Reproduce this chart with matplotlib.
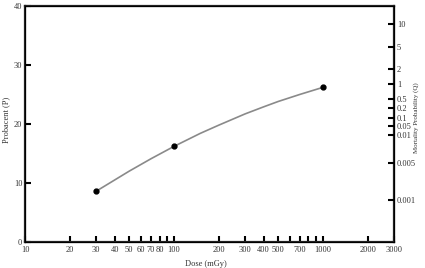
import matplotlib
matplotlib.use("Agg")
import matplotlib.pyplot as plt

# measured points
dose = [30, 100, 1000]
probacent = [8.6, 16.2, 26.2]

# fitted curve
curve_dose = [30, 50, 70, 100, 150, 200, 300, 400, 500, 700, 1000]
curve_p = [8.6, 12.0, 14.1, 16.2, 18.4, 19.8, 21.7, 22.9, 23.8, 25.0, 26.2]

x_ticks = [10, 20, 30, 40, 50, 60, 70, 80, 90, 100, 200, 300, 400, 500,
           600, 700, 800, 900, 1000, 2000, 3000]
x_labels = ["10", "20", "30", "40", "50", "60", "70", "80", "", "100", "200",
            "300", "400", "500", "", "700", "", "", "1000", "2000", "3000"]

q_labels = ["10", "5", "2", "1", "0.5", "0.2", "0.1", "0.05", "0.01",
            "0.005", "0.001"]
q_pos = [36.9, 33.1, 29.3, 26.7, 24.2, 22.7, 21.0, 19.6, 18.1, 13.3, 7.2]

plt.rcParams["font.family"] = ["Liberation Serif", "DejaVu Serif"]
text_col = "#333333"
fs = 6

fig = plt.figure(figsize=(4.25, 2.68), dpi=100)
ax = fig.add_axes([0.059, 0.097, 0.868, 0.881])

ax.plot(curve_dose, curve_p, color="#8a8a8a", lw=1.2, zorder=2)
ax.plot(dose, probacent, "o", color="black", ms=3.5, zorder=3)

ax.set_xscale("log")
ax.set_xlim(10, 3000)
ax.set_ylim(0, 40)
ax.set_xticks(x_ticks)
ax.set_xticklabels(x_labels)
ax.minorticks_off()
ax.set_yticks([0, 10, 20, 30, 40])

ax.tick_params(axis="both", direction="in", length=4, width=1.5,
               labelsize=fs, labelcolor=text_col, pad=3)
ax.tick_params(axis="y", pad=2)
for s in ax.spines.values():
    s.set_linewidth(1.6)
    s.set_color("#222222")

ax.set_ylabel("Probacent (P)", fontsize=fs, color=text_col)
ax.yaxis.set_label_coords(-0.04, 0.517)
ax.set_xlabel("Dose (mGy)", fontsize=fs, color=text_col)
ax.xaxis.set_label_coords(0.49, -0.075)

ax2 = ax.twinx()
ax2.set_ylim(0, 40)
ax2.set_yticks(q_pos)
ax2.set_yticklabels(q_labels)
ax2.tick_params(axis="y", direction="in", length=4, width=1.5,
                labelsize=fs, labelcolor=text_col, pad=2)
ax2.set_ylabel("Mortality Probability (Q)", fontsize=5, color=text_col)
ax2.yaxis.set_label_coords(1.052, 0.528)

fig.savefig("out.png", dpi=100)
